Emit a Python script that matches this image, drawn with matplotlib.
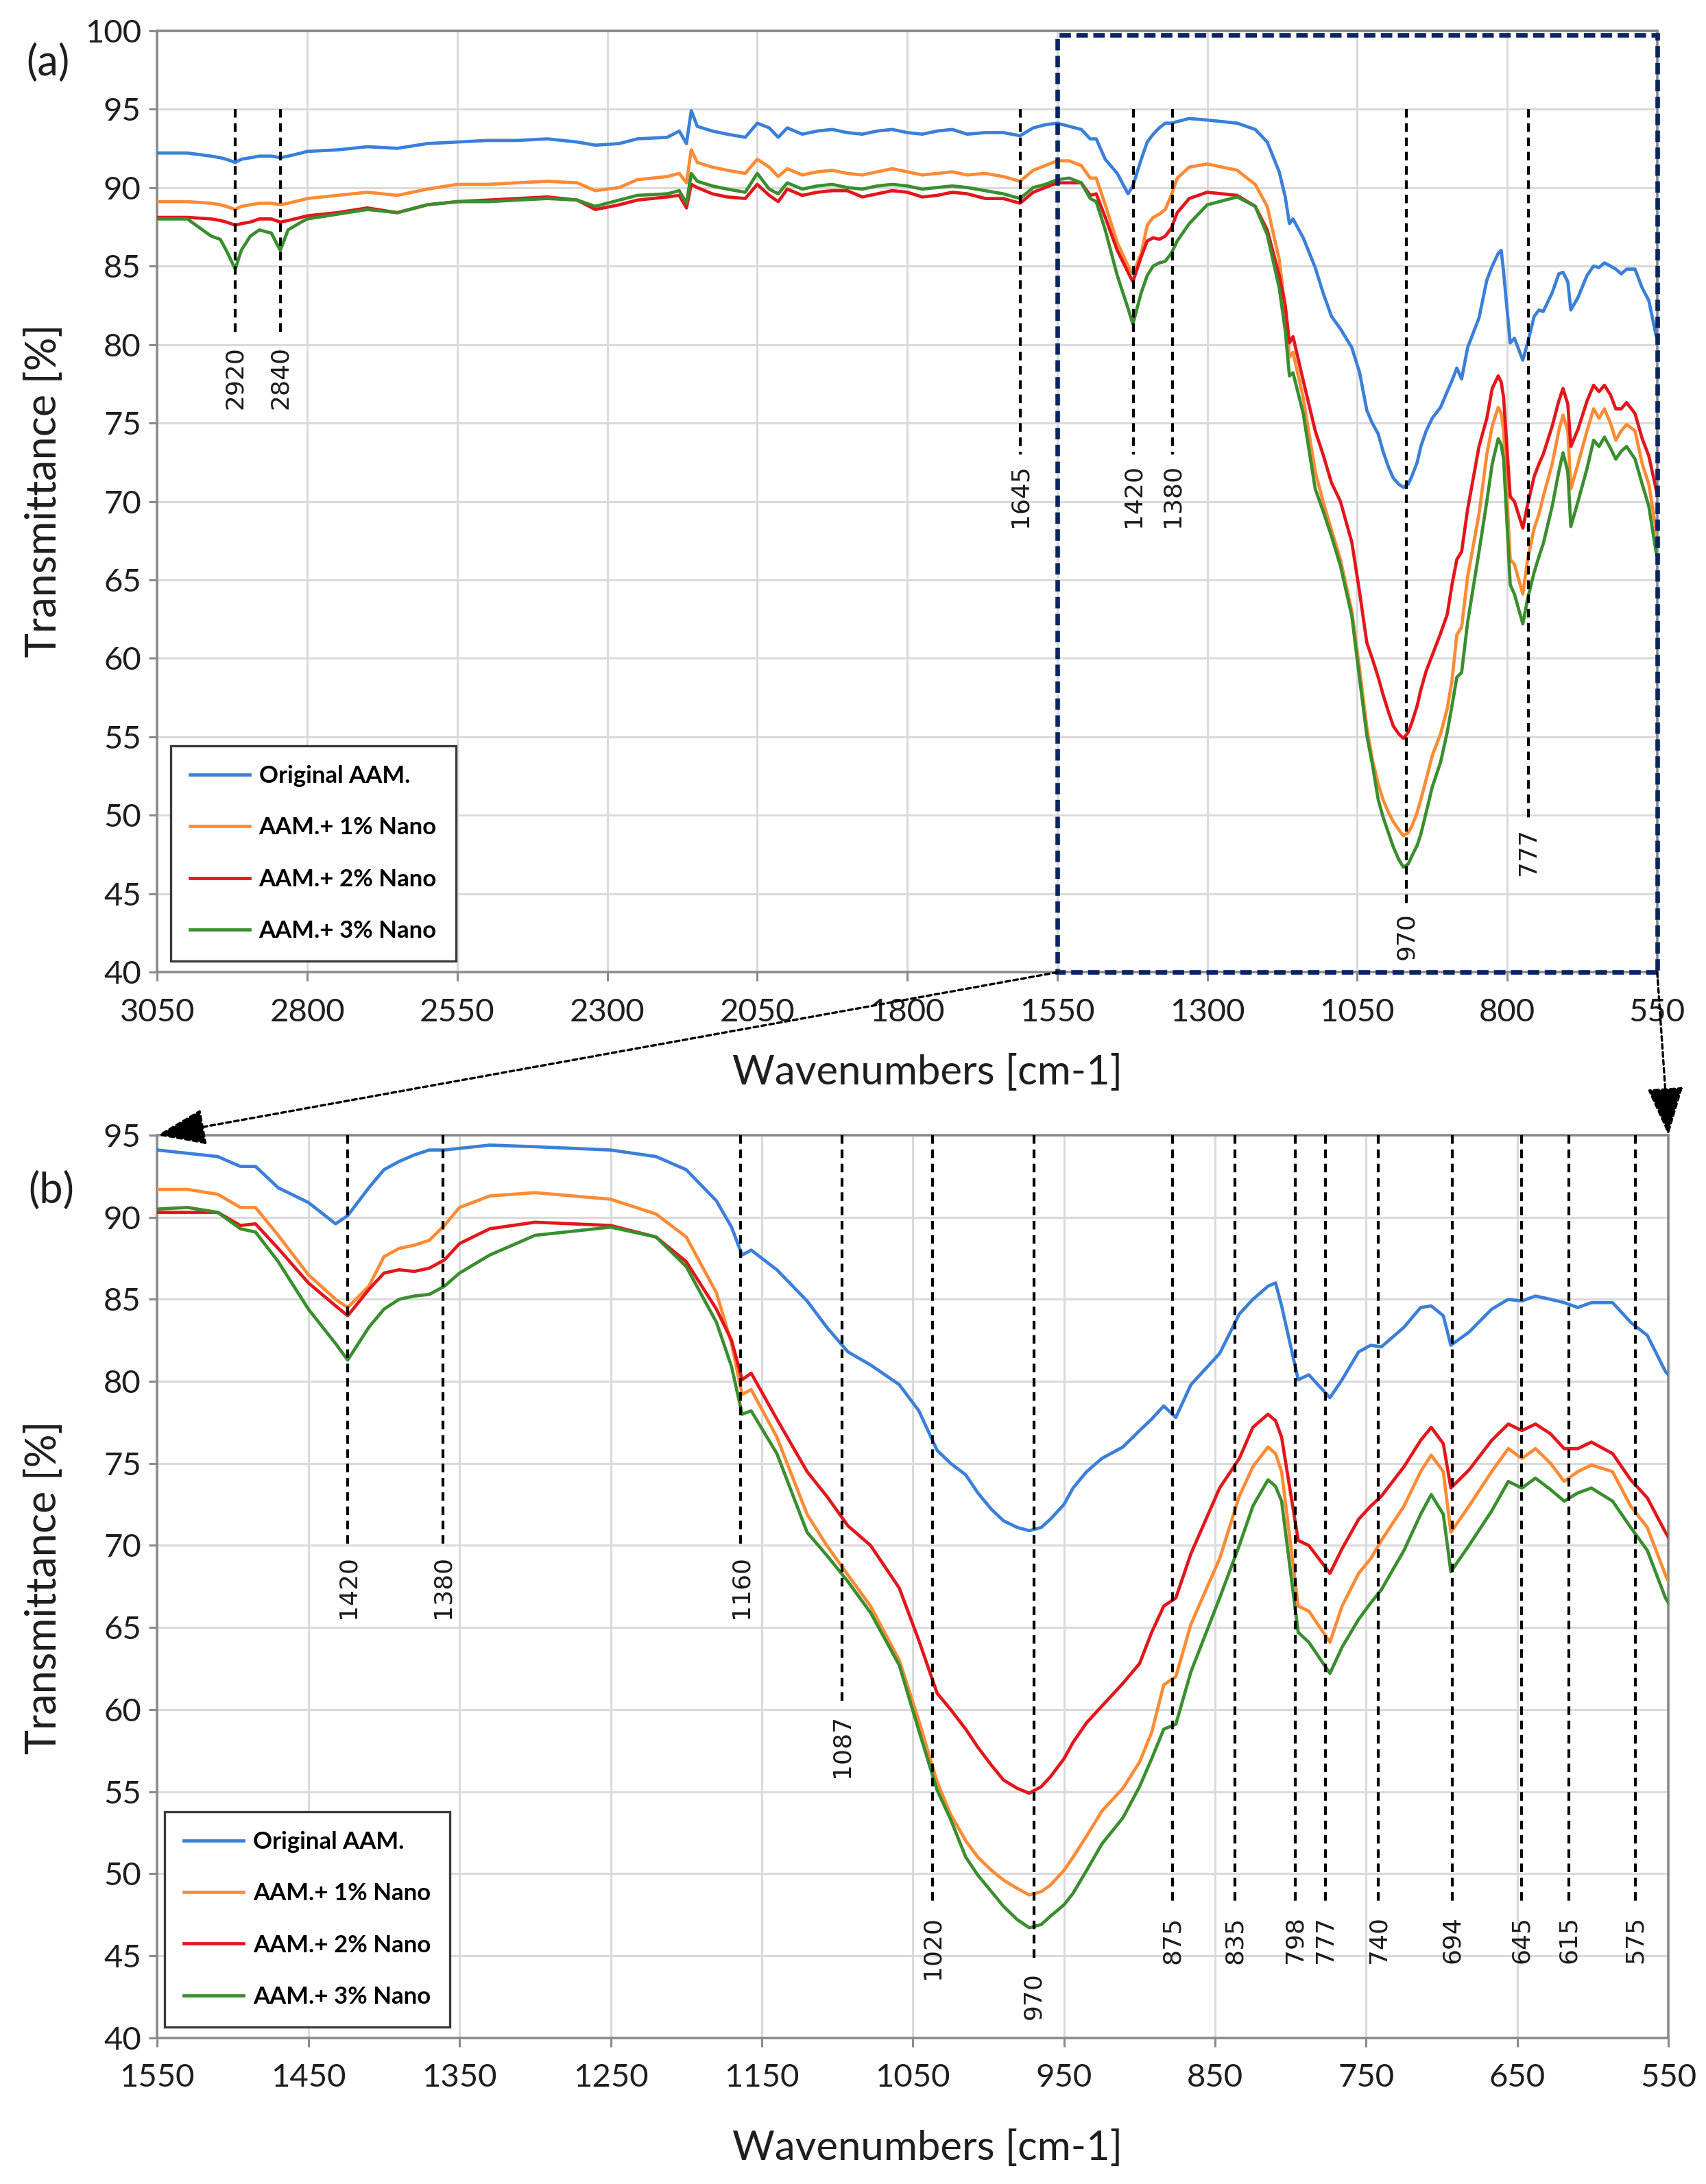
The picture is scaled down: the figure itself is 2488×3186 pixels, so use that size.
import matplotlib
matplotlib.use("Agg")
import matplotlib.pyplot as plt
from matplotlib.patches import Rectangle, ConnectionPatch
from matplotlib.font_manager import FontProperties

plt.rcParams['font.family'] = ['Lato', 'DejaVu Sans']

# ---------------- data ----------------
wavenumber = [
    3050, 3000, 2960, 2945, 2935, 2920, 2910, 2895, 2880, 2860,
    2845, 2832, 2810, 2800, 2750, 2700, 2650, 2600, 2550, 2500,
    2450, 2400, 2350, 2320, 2280, 2250, 2200, 2180, 2168, 2160,
    2150, 2125, 2100, 2070, 2050, 2030, 2015, 2000, 1975, 1950,
    1925, 1900, 1875, 1850, 1825, 1800, 1775, 1750, 1725, 1700,
    1670, 1640, 1612, 1590, 1570, 1550,
    1530, 1510, 1495, 1485, 1470, 1450, 1432, 1424, 1410, 1400,
    1390, 1380, 1370, 1360, 1350, 1330, 1300, 1250, 1220, 1200,
    1180, 1170, 1163, 1157, 1140, 1120, 1107, 1093, 1078, 1059,
    1046, 1034, 1025, 1015, 1007, 998, 990, 981, 973, 965,
    959, 950, 944, 935, 925, 911, 900, 892, 884, 876,
    866, 847, 834, 825, 815, 810, 806, 795, 788, 774,
    766, 755, 747, 740, 725, 714, 707, 699, 694, 682,
    667, 656, 647, 638, 628, 619, 610, 601, 587, 575,
    564, 552, 550]

original = [
    92.2, 92.2, 92.0, 91.9, 91.8, 91.6, 91.8, 91.9, 92.0, 92.0,
    91.9, 92.0, 92.2, 92.3, 92.4, 92.6, 92.5, 92.8, 92.9, 93.0,
    93.0, 93.1, 92.9, 92.7, 92.8, 93.1, 93.2, 93.6, 92.8, 94.9,
    93.9, 93.6, 93.4, 93.2, 94.1, 93.8, 93.2, 93.8, 93.4, 93.6,
    93.7, 93.5, 93.4, 93.6, 93.7, 93.5, 93.4, 93.6, 93.7, 93.4,
    93.5, 93.5, 93.3, 93.8, 94.0, 94.1,
    93.9, 93.7, 93.1, 93.1, 91.8, 90.9, 89.6, 90.1, 91.8, 92.9,
    93.4, 93.8, 94.1, 94.1, 94.2, 94.4, 94.3, 94.1, 93.7, 92.9,
    91.0, 89.4, 87.7, 88.0, 86.8, 84.9, 83.3, 81.8, 81.0, 79.8,
    78.2, 75.8, 75.0, 74.3, 73.2, 72.2, 71.5, 71.1, 70.9, 71.1,
    71.6, 72.5, 73.5, 74.5, 75.3, 76.0, 77.0, 77.7, 78.5, 77.8,
    79.8, 81.7, 84.1, 85.0, 85.8, 86.0, 84.6, 80.1, 80.4, 79.0,
    80.1, 81.8, 82.2, 82.1, 83.3, 84.5, 84.6, 84.0, 82.2, 83.0,
    84.4, 85.0, 84.9, 85.2, 85.0, 84.8, 84.5, 84.8, 84.8, 83.6,
    82.8, 80.6, 80.4]

nano1 = [
    89.1, 89.1, 89.0, 88.9, 88.8, 88.6, 88.8, 88.9, 89.0, 89.0,
    88.9, 89.0, 89.2, 89.3, 89.5, 89.7, 89.5, 89.9, 90.2, 90.2,
    90.3, 90.4, 90.3, 89.8, 90.0, 90.5, 90.7, 90.9, 90.3, 92.4,
    91.6, 91.3, 91.1, 90.9, 91.8, 91.3, 90.7, 91.2, 90.8, 91.0,
    91.1, 90.9, 90.8, 91.0, 91.2, 91.0, 90.8, 90.9, 91.0, 90.8,
    90.9, 90.7, 90.4, 91.1, 91.4, 91.7,
    91.7, 91.4, 90.6, 90.6, 88.9, 86.5, 85.0, 84.5, 85.8, 87.6,
    88.1, 88.3, 88.6, 89.5, 90.6, 91.3, 91.5, 91.1, 90.2, 88.8,
    85.4, 82.3, 79.2, 79.5, 76.6, 71.9, 70.0, 68.2, 66.3, 63.0,
    59.3, 55.6, 53.6, 52.0, 51.0, 50.2, 49.6, 49.1, 48.7, 48.9,
    49.3, 50.2, 51.0, 52.3, 53.8, 55.2, 56.8, 58.6, 61.5, 62.0,
    65.2, 69.2, 73.0, 74.8, 76.0, 75.6, 74.5, 66.3, 66.0, 64.1,
    66.3, 68.3, 69.2, 70.3, 72.4, 74.5, 75.5, 74.5, 70.8, 72.4,
    74.5, 75.9, 75.3, 75.9, 75.0, 73.9, 74.5, 74.9, 74.5, 72.4,
    71.1, 68.2, 67.8]

nano2 = [
    88.1, 88.1, 88.0, 87.9, 87.8, 87.6, 87.7, 87.8, 88.0, 88.0,
    87.8, 87.9, 88.1, 88.2, 88.4, 88.7, 88.4, 88.9, 89.1, 89.2,
    89.3, 89.4, 89.2, 88.6, 88.9, 89.2, 89.4, 89.5, 88.7, 90.2,
    90.0, 89.6, 89.4, 89.3, 90.2, 89.5, 89.1, 89.9, 89.5, 89.7,
    89.8, 89.8, 89.4, 89.6, 89.8, 89.7, 89.4, 89.5, 89.7, 89.6,
    89.3, 89.3, 89.0, 89.7, 90.0, 90.3,
    90.3, 90.3, 89.5, 89.6, 88.1, 86.0, 84.6, 84.0, 85.6, 86.6,
    86.8, 86.7, 86.9, 87.4, 88.4, 89.3, 89.7, 89.5, 88.8, 87.3,
    84.4, 82.5, 80.1, 80.5, 77.7, 74.5, 73.0, 71.2, 70.0, 67.4,
    64.2, 61.0, 60.0, 58.8, 57.7, 56.6, 55.7, 55.2, 54.9, 55.3,
    55.9, 57.0, 58.0, 59.2, 60.2, 61.6, 62.8, 64.7, 66.3, 66.8,
    69.5, 73.5, 75.3, 77.2, 78.0, 77.6, 76.6, 70.3, 70.0, 68.3,
    69.8, 71.6, 72.4, 73.0, 74.8, 76.4, 77.2, 76.2, 73.5, 74.6,
    76.4, 77.4, 77.0, 77.4, 76.8, 75.9, 75.9, 76.3, 75.6, 74.0,
    72.9, 70.8, 70.5]

nano3 = [
    88.0, 88.0, 86.9, 86.7, 86.0, 84.8, 86.0, 86.9, 87.3, 87.1,
    86.0, 87.3, 87.8, 88.0, 88.3, 88.6, 88.4, 88.9, 89.1, 89.1,
    89.2, 89.3, 89.2, 88.8, 89.2, 89.5, 89.6, 89.8, 89.0, 90.9,
    90.4, 90.1, 89.9, 89.7, 90.9, 89.9, 89.6, 90.3, 89.9, 90.1,
    90.2, 90.0, 89.9, 90.1, 90.2, 90.1, 89.9, 90.0, 90.1, 90.0,
    89.8, 89.6, 89.3, 90.0, 90.2, 90.5,
    90.6, 90.3, 89.3, 89.1, 87.3, 84.4, 82.3, 81.3, 83.3, 84.4,
    85.0, 85.2, 85.3, 85.8, 86.6, 87.7, 88.9, 89.4, 88.8, 87.0,
    83.6, 80.9, 78.0, 78.2, 75.6, 70.8, 69.4, 67.8, 65.9, 62.7,
    58.7, 55.1, 53.3, 51.0, 49.9, 48.9, 48.0, 47.2, 46.7, 46.9,
    47.4, 48.1, 48.8, 50.2, 51.8, 53.4, 55.3, 57.0, 58.8, 59.1,
    62.3, 66.8, 70.0, 72.4, 74.0, 73.6, 72.7, 64.7, 64.1, 62.2,
    63.8, 65.5, 66.5, 67.3, 69.7, 71.9, 73.1, 71.9, 68.4, 70.0,
    72.1, 73.9, 73.5, 74.1, 73.4, 72.7, 73.2, 73.5, 72.7, 71.1,
    69.7, 66.8, 66.5]

series_labels = ['Original AAM.', 'AAM.+ 1% Nano', 'AAM.+ 2% Nano', 'AAM.+ 3% Nano']
series_colors = ['#3b7fd8', '#ff8b35', '#e3161c', '#3a8e2f']

# peak annotations (label text, drawn position, bottom of dashed line)
peaks_a_labels = ['2920', '2840', '1645', '1420', '1380', '970', '777']
peaks_a_pos = [2920, 2845, 1612, 1423, 1358, 968, 765]
peaks_a_end = [80.5, 80.5, 73.0, 73.0, 73.0, 44.4, 49.8]

peaks_b_labels = ['1420', '1380', '1160', '1087', '1020', '970', '875', '835',
                  '798', '777', '740', '694', '645', '615', '575']
peaks_b_pos = [1424, 1361, 1164, 1097, 1037, 970, 878, 837, 797, 777, 742, 693, 647, 616, 572]
peaks_b_end = [70.0, 70.0, 70.0, 60.3, 48.0, 44.6, 48.0, 48.0, 48.0, 48.0, 48.0, 48.0, 48.0, 48.0, 48.0]

xticks_a = [3050, 2800, 2550, 2300, 2050, 1800, 1550, 1300, 1050, 800, 550]
yticks_a = [40, 45, 50, 55, 60, 65, 70, 75, 80, 85, 90, 95, 100]
xticks_b = [1550, 1450, 1350, 1250, 1150, 1050, 950, 850, 750, 650, 550]
yticks_b = [40, 45, 50, 55, 60, 65, 70, 75, 80, 85, 90, 95]

# ---------------- figure ----------------
fig = plt.figure(figsize=(12.44, 15.93), dpi=200)
ax1 = fig.add_axes([0.0922, 0.5548, 0.8792, 0.4312])
ax2 = fig.add_axes([0.0922, 0.0670, 0.8858, 0.4132])

series = [original, nano1, nano2, nano3]


def style(ax, xticks, yticks, xlim, ylim):
    ax.set_xlim(*xlim)
    ax.set_ylim(*ylim)
    ax.set_xticks(xticks)
    ax.set_xticklabels([str(t) for t in xticks])
    ax.set_yticks(yticks)
    ax.set_yticklabels([str(t) for t in yticks])
    ax.grid(True, color='#dadada', lw=1.1)
    ax.set_axisbelow(True)
    for s in ax.spines.values():
        s.set_color('#8a8a8a')
        s.set_linewidth(1.3)
    ax.tick_params(axis='both', direction='out', length=4.5, width=1.1,
                   color='#8a8a8a', labelsize=17, labelcolor='#1e1e1e')
    ax.tick_params(axis='x', pad=9)
    ax.tick_params(axis='y', pad=4)


style(ax1, xticks_a, yticks_a, (3050, 550), (40, 100))
style(ax2, xticks_b, yticks_b, (1550, 550), (40, 95))

for ax in (ax1, ax2):
    handles = []
    for ys, lab, col in zip(series, series_labels, series_colors):
        h, = ax.plot(wavenumber, ys, color=col, lw=1.7, label=lab, zorder=3)
        handles.append(h)
    leg = ax.legend(handles=handles, loc='lower left',
                    bbox_to_anchor=(0.009, 0.012) if ax is ax1 else (0.005, 0.012),
                    frameon=True, fancybox=False, edgecolor='#3a3a3a', framealpha=1,
                    prop=FontProperties(family='Lato', weight='bold', size=12.5),
                    handlelength=2.5, handletextpad=0.4, labelspacing=1.25,
                    borderpad=0.8, borderaxespad=0)
    leg.get_frame().set_linewidth(1.2)
    leg.set_zorder(8)


def annotate(ax, labels, pos, ends, top):
    for lab, x, e in zip(labels, pos, ends):
        ax.plot([x, x], [top, e], color='black', lw=1.5, ls=(0, (3, 2)), zorder=5)
        ax.text(x, e - 0.6, lab, rotation=90, ha='center', va='top',
                fontsize=13, family='DejaVu Sans', color='#1a1a1a', zorder=6)


annotate(ax1, peaks_a_labels, peaks_a_pos, peaks_a_end, 95)
annotate(ax2, peaks_b_labels, peaks_b_pos, peaks_b_end, 95)

# zoom box on panel (a)
box = Rectangle((550, 40), 1000, 59.7, transform=ax1.transData, fill=False,
                ec='#0c2461', lw=2.4, ls=(0, (2.5, 1.2)), clip_on=False, zorder=7)
ax1.add_patch(box)

# dotted arrows linking box to panel (b)
for xa, xb in [(1550, 1550), (550, 550)]:
    con = ConnectionPatch(xyA=(xa, 40), coordsA=ax1.transData,
                          xyB=(xb, 95), coordsB=ax2.transData,
                          arrowstyle='-|>,head_length=0.8,head_width=0.3',
                          mutation_scale=28, lw=1.2, ls=(0, (2, 1.5)),
                          color='black', shrinkA=0, shrinkB=0, zorder=10)
    fig.add_artist(con)

# axis titles and panel letters
fig.text(0.0261, 0.7755, 'Transmittance [%]', rotation=90, ha='center', va='center', fontsize=22, color='#1e1e1e')
fig.text(0.0261, 0.273, 'Transmittance [%]', rotation=90, ha='center', va='center', fontsize=22, color='#1e1e1e')
fig.text(0.5437, 0.509, 'Wavenumbers [cm-1]', ha='center', va='center', fontsize=21.5, color='#1e1e1e')
fig.text(0.5437, 0.0166, 'Wavenumbers [cm-1]', ha='center', va='center', fontsize=21.5, color='#1e1e1e')
fig.text(0.028, 0.971, '(a)', ha='center', va='center', fontsize=22, color='#1e1e1e')
fig.text(0.030, 0.4547, '(b)', ha='center', va='center', fontsize=22, color='#1e1e1e')

fig.savefig('out.png', dpi=200)
